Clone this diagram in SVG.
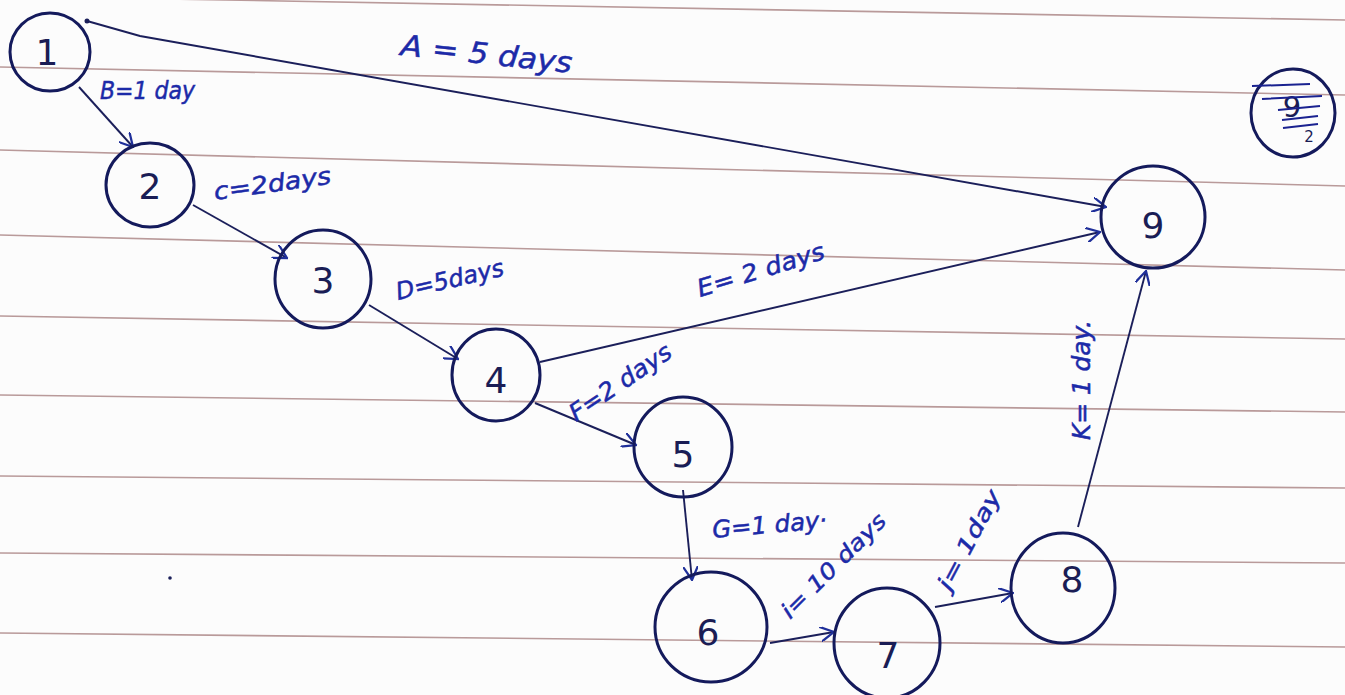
<svg xmlns="http://www.w3.org/2000/svg" width="1345" height="695" viewBox="0 0 1345 695">
<defs>
<marker id="arr" viewBox="0 0 12 12" refX="11" refY="6" markerWidth="15" markerHeight="15" markerUnits="userSpaceOnUse" orient="auto">
<path d="M0,0 L11,6 L0,12" fill="none" stroke="#1f2f9a" stroke-width="1.8"/>
</marker>
<style>
.rule{stroke:#b99a9a;stroke-width:1.6;fill:none}
.node{fill:none;stroke:#141a5c;stroke-width:3}
.num{font-family:"DejaVu Sans",sans-serif;font-size:36px;fill:#1a1d55;text-anchor:middle}
.edge{fill:none;stroke:#1b1f5a;stroke-width:1.9;marker-end:url(#arr)}
.lbl{font-family:"DejaVu Sans",sans-serif;font-style:oblique;font-size:24px;fill:#1c2aa8;stroke:#1c2aa8;stroke-width:0.5}
</style>
</defs>
<rect width="1345" height="695" fill="#fcfcfc"/>
<g id="paper-lines">
<line class="rule" x1="0" y1="-4" x2="1345" y2="20"/>
<line class="rule" x1="0" y1="67" x2="1345" y2="95"/>
<line class="rule" x1="0" y1="150" x2="1345" y2="186"/>
<line class="rule" x1="0" y1="235" x2="1345" y2="270"/>
<line class="rule" x1="0" y1="316" x2="1345" y2="339"/>
<line class="rule" x1="0" y1="395" x2="1345" y2="412"/>
<line class="rule" x1="0" y1="476" x2="1345" y2="488"/>
<line class="rule" x1="0" y1="553" x2="1345" y2="563"/>
<line class="rule" x1="0" y1="633" x2="1345" y2="647"/>
</g>
<g id="connectors">
<circle cx="87" cy="21" r="2.5" fill="#1b1f5a"/>
<path class="edge" d="M87,21 L140,36 L1106,207"/>
<path class="edge" d="M79,87 L133,147"/>
<path class="edge" d="M193,205 L287,258"/>
<path class="edge" d="M369,305 L458,359"/>
<path class="edge" d="M540,362 L1100,232"/>
<path class="edge" d="M535,403 L636,445"/>
<path class="edge" d="M683,490 L692,580"/>
<path class="edge" d="M770,643 L834,632"/>
<path class="edge" d="M935,607 L1013,593"/>
<path class="edge" d="M1078,527 L1146,271"/>
</g>
<g id="labels">
<text class="lbl" x="400" y="55" style="font-size:29px" textLength="172" lengthAdjust="spacingAndGlyphs" transform="rotate(6 400 55)">A = 5 days</text>
<text class="lbl" x="100" y="99" textLength="95" lengthAdjust="spacingAndGlyphs">B=1 day</text>
<text class="lbl" x="215" y="200" textLength="118" lengthAdjust="spacingAndGlyphs" transform="rotate(-8 215 200)">c=2days</text>
<text class="lbl" x="398" y="300" textLength="110" lengthAdjust="spacingAndGlyphs" transform="rotate(-13 398 300)">D=5days</text>
<text class="lbl" x="700" y="297" textLength="132" lengthAdjust="spacingAndGlyphs" transform="rotate(-17 700 297)">E= 2 days</text>
<text class="lbl" x="576" y="422" textLength="118" lengthAdjust="spacingAndGlyphs" transform="rotate(-34 576 422)">F=2 days</text>
<text class="lbl" x="713" y="538" textLength="115" lengthAdjust="spacingAndGlyphs" transform="rotate(-5 713 538)">G=1 day·</text>
<text class="lbl" x="790" y="620" style="font-size:22px" textLength="138" lengthAdjust="spacingAndGlyphs" transform="rotate(-45 790 620)">i= 10 days</text>
<text class="lbl" x="950" y="592" style="font-size:22px" textLength="110" lengthAdjust="spacingAndGlyphs" transform="rotate(-62 950 592)">j= 1day</text>
<text class="lbl" x="1090" y="440" textLength="120" lengthAdjust="spacingAndGlyphs" transform="rotate(-90 1090 440)">K= 1 day.</text>
</g>
<g id="node1"><ellipse class="node" cx="50" cy="52" rx="40" ry="39"/><text class="num" x="47" y="65">1</text></g>
<g id="node2"><ellipse class="node" cx="150" cy="185" rx="44" ry="42"/><text class="num" x="150" y="199">2</text></g>
<g id="node3"><ellipse class="node" cx="323" cy="279" rx="48" ry="49"/><text class="num" x="323" y="293">3</text></g>
<g id="node4"><ellipse class="node" cx="496" cy="375" rx="44" ry="46"/><text class="num" x="496" y="393">4</text></g>
<g id="node5"><ellipse class="node" cx="683" cy="447" rx="49" ry="50"/><text class="num" x="683" y="467">5</text></g>
<g id="node6"><ellipse class="node" cx="711" cy="627" rx="56" ry="55"/><text class="num" x="708" y="645">6</text></g>
<g id="node7"><ellipse class="node" cx="887" cy="643" rx="53" ry="55"/><text class="num" x="888" y="668">7</text></g>
<g id="node8"><ellipse class="node" cx="1063" cy="588" rx="52" ry="55"/><text class="num" x="1072" y="592">8</text></g>
<g id="node9"><ellipse class="node" cx="1153" cy="217" rx="52" ry="51"/><text class="num" x="1153" y="238">9</text></g>
<g id="scribble">
<ellipse class="node" cx="1293" cy="113" rx="42" ry="44"/>
<text class="num" x="1292" y="117" style="font-size:29px">9</text>
<text class="num" x="1309" y="142" style="font-size:15px">2</text>
<path d="M1252,86 L1310,84 M1262,99 L1322,96 M1278,110 L1320,106 M1282,120 L1318,116 M1283,128 L1318,124" stroke="#1a2290" stroke-width="2" fill="none"/>
</g>
<circle cx="170" cy="578" r="1.8" fill="#1b1f5a"/>
</svg>
